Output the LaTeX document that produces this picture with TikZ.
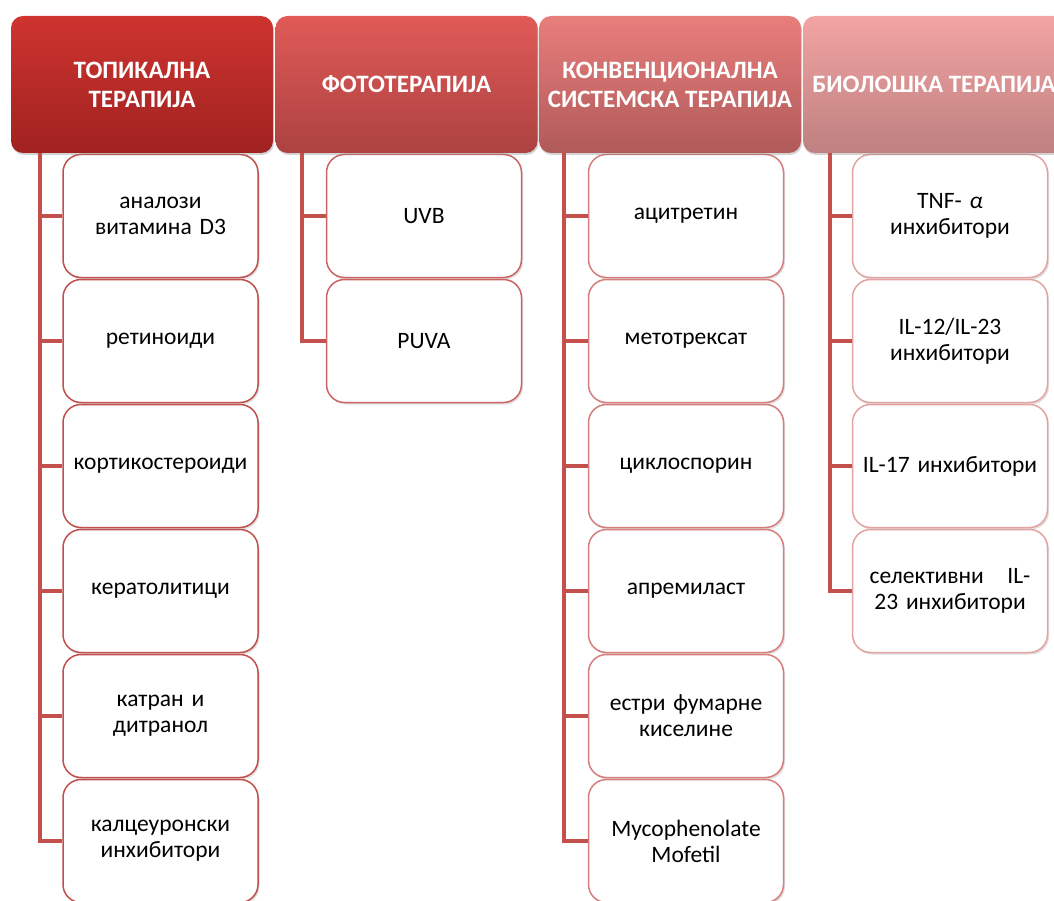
\documentclass[tikz,border=0pt]{standalone}
\usepackage{fontspec}
\setmainfont{Carlito}
\usetikzlibrary{shadows}
\definecolor{linered}{HTML}{C4504E}
\definecolor{edgeA}{HTML}{C0504D}
\definecolor{edgeB}{HTML}{CC6462}
\definecolor{edgeC}{HTML}{D57E7C}
\definecolor{edgeD}{HTML}{E3A3A1}
\begin{document}
\begin{tikzpicture}[x=1pt,y=-1pt,
  head/.style={rounded corners=12pt,minimum width=262pt,minimum height=137pt,
    text=white,align=center,inner sep=0pt,
    font=\fontsize{25}{29}\selectfont\bfseries,
    drop shadow={opacity=0.35,shadow xshift=1pt,shadow yshift=-2pt}},
  item/.style={draw=#1,line width=1.5pt,rounded corners=18pt,fill=white,
    minimum width=195pt,minimum height=123pt,text width=192pt,inner sep=0pt,
    align=center,font=\fontsize{23.5}{26}\selectfont,
    drop shadow={opacity=0.25,shadow xshift=1.5pt,shadow yshift=-2pt}},
  branch/.style={draw=linered,line width=4pt}]
  \useasboundingbox (0,0) rectangle (1054,901);
  \clip (0,0) rectangle (1054,901);
  % child boxes
  \node[item=edgeA] (d3) at (160.5,216) {аналози\\витамина D3};
  \node[item=edgeA] (retin) at (160.5,341) {ретиноиди};
  \node[item=edgeA] (kort) at (160.5,466) {кортикостероиди};
  \node[item=edgeA] (kerat) at (160.5,591) {кератолитици};
  \node[item=edgeA] (katran) at (160.5,716) {катран и\\дитранол};
  \node[item=edgeA] (kalc) at (160.5,841) {калцеуронски\\инхибитори};
  \node[item=edgeB] (uvb) at (424,216) {UVB};
  \node[item=edgeB] (puva) at (424,341) {PUVA};
  \node[item=edgeC] (acit) at (686,216) {ацитретин};
  \node[item=edgeC] (metot) at (686,341) {метотрексат};
  \node[item=edgeC] (ciklo) at (686,466) {циклоспорин};
  \node[item=edgeC] (aprem) at (686,591) {апремиласт};
  \node[item=edgeC] (fumar) at (686,716) {естри фумарне\\киселине};
  \node[item=edgeC] (myco) at (686,841) {Mycophenolate\\Mofetil};
  \node[item=edgeD] (tnf) at (950,216) {TNF- {\itshape α}\\инхибитори};
  \node[item=edgeD] (il12) at (950,341) {IL-12/IL-23\\инхибитори};
  \node[item=edgeD] (il17) at (950,466) {IL-17 инхибитори};
  \node[item=edgeD] (il23) at (950,591) {селективни\quad IL-\\23 инхибитори};
  % headers
  \node[head,top color={rgb,255:red,206;green,52;blue,48},bottom color={rgb,255:red,160;green,34;blue,32}]
    (topikal) at (142,84.5) {ТОПИКАЛНА\\ТЕРАПИЈА};
  \node[head,top color={rgb,255:red,224;green,90;blue,87},bottom color={rgb,255:red,172;green,66;blue,65}]
    (foto) at (406.5,84.5) {ФОТОТЕРАПИЈА};
  \node[head,top color={rgb,255:red,232;green,126;blue,124},bottom color={rgb,255:red,176;green,90;blue,90}]
    (konv) at (670,84.5) {КОНВЕНЦИОНАЛНА\\СИСТЕМСКА ТЕРАПИЈА};
  \node[head,top color={rgb,255:red,242;green,164;blue,163},bottom color={rgb,255:red,190;green,128;blue,128}]
    (bio) at (934,84.5) {БИОЛОШКА ТЕРАПИЈА};
  % trunks
  \coordinate (t1) at ([xshift=29pt]topikal.south west);
  \coordinate (t2) at ([xshift=27pt]foto.south west);
  \coordinate (t3) at ([xshift=25pt]konv.south west);
  \coordinate (t4) at ([xshift=27pt]bio.south west);
  \draw[branch] (t1) |- (kalc.west);
  \foreach \n in {d3,retin,kort,kerat,katran}
    \draw[branch] (t1 |- \n.west) -- (\n.west);
  \draw[branch] (t2) |- (puva.west);
  \draw[branch] (t2 |- uvb.west) -- (uvb.west);
  \draw[branch] (t3) |- (myco.west);
  \foreach \n in {acit,metot,ciklo,aprem,fumar}
    \draw[branch] (t3 |- \n.west) -- (\n.west);
  \draw[branch] (t4) |- (il23.west);
  \foreach \n in {tnf,il12,il17}
    \draw[branch] (t4 |- \n.west) -- (\n.west);
\end{tikzpicture}
\end{document}
